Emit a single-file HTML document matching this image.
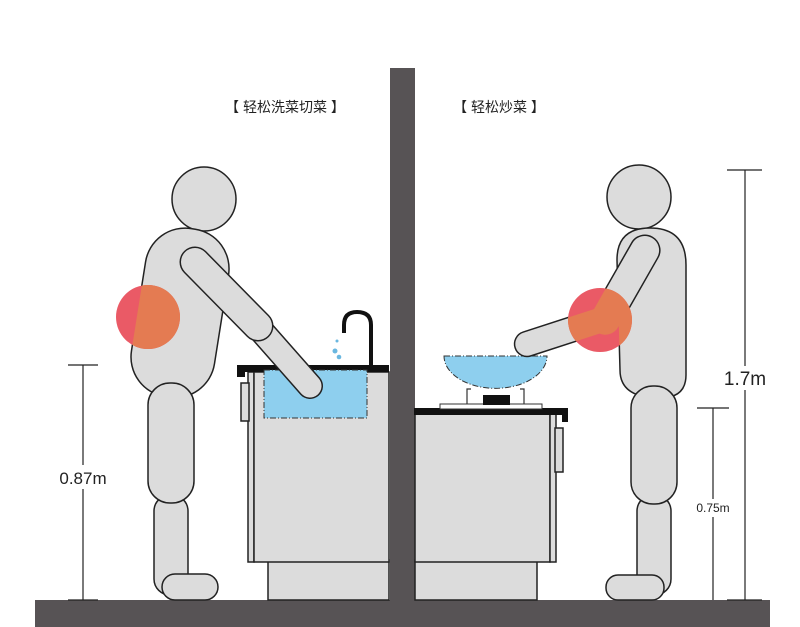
<!DOCTYPE html>
<html><head><meta charset="utf-8"><style>
html,body{margin:0;padding:0;background:#fff;}
svg{display:block;}
text{font-family:"Liberation Sans","Noto Sans CJK SC",sans-serif;}
</style></head><body>
<svg width="800" height="627" viewBox="0 0 800 627" xmlns="http://www.w3.org/2000/svg">
<defs>
<clipPath id="tl"><rect x="138" y="228" width="84" height="170" rx="40" transform="rotate(9 181 313)"/></clipPath>
<clipPath id="tr"><path d="M617 260 Q617 228 650 228 Q686 228 686 265 L686 375 Q686 398 660 398 Q620 398 620 370 Z"/><rect x="570" y="270" width="110" height="30" rx="15" transform="rotate(119.7 625 285)"/><rect x="512.5" y="318.5" width="109" height="25" rx="12.5" transform="rotate(162 567 331)"/></clipPath>
</defs>
<text x="285" y="112" font-size="14" text-anchor="middle" fill="#222">【 轻松洗菜切菜 】</text>
<text x="499" y="112" font-size="14" text-anchor="middle" fill="#222">【 轻松炒菜 】</text>
<rect x="390" y="68" width="25" height="535" fill="#575355"/>
<rect x="35" y="600" width="735" height="27" fill="#575355"/>

<g stroke="#222" stroke-width="1.5">
<rect x="268" y="560" width="121" height="40" fill="#dcdcdc"/>
<rect x="248" y="372" width="6" height="190" fill="#dcdcdc"/>
<rect x="254" y="372" width="135" height="190" fill="#dcdcdc"/>
<rect x="241" y="383" width="8" height="38" fill="#dcdcdc"/>
<rect x="415" y="560" width="122" height="40" fill="#dcdcdc"/>
<rect x="415" y="414" width="135" height="148" fill="#dcdcdc"/>
<rect x="550" y="414" width="6" height="148" fill="#dcdcdc"/>
<rect x="555" y="428" width="8" height="44" fill="#dcdcdc"/>
</g>
<rect x="237" y="365" width="152" height="7" fill="#111"/>
<rect x="237" y="365" width="8" height="12" fill="#111"/>
<rect x="264" y="370" width="103" height="48" fill="#8ecfee" stroke="#333" stroke-width="1" stroke-dasharray="6 2 1 2"/>
<path d="M371 365 L371 325 Q371 312 357 312 Q344 312 344 325 L344 333" fill="none" stroke="#111" stroke-width="4"/>
<circle cx="337" cy="341" r="1.5" fill="#6ab7e0"/><circle cx="335" cy="351" r="2.5" fill="#6ab7e0"/><circle cx="339" cy="357" r="2.3" fill="#6ab7e0"/>
<rect x="414" y="408" width="154" height="7" fill="#111"/>
<rect x="562" y="408" width="6" height="14" fill="#111"/>
<rect x="440" y="404" width="102" height="5" fill="#fff" stroke="#333" stroke-width="1"/>
<path d="M467 404 L467 389 L471 389 M524 404 L524 389 L520 389" fill="none" stroke="#333" stroke-width="1.2"/>
<rect x="483" y="395" width="27" height="10" fill="#111"/>
<path d="M444 356 L547 356 A51 32 0 0 1 444 356 Z" fill="#8ecfee" stroke="#333" stroke-width="1" stroke-dasharray="6 2 1 2"/>

<g fill="#dcdcdc" stroke="#222" stroke-width="1.5">
<circle cx="204" cy="199" r="32"/>
<rect x="138" y="228" width="84" height="170" rx="40" transform="rotate(9 181 313)"/>
<rect x="154" y="495" width="34" height="100" rx="16"/>
<rect x="162" y="574" width="56" height="26" rx="13"/>
<rect x="148" y="383" width="46" height="120" rx="22"/>
</g>
<circle cx="148" cy="317" r="32" fill="#ea5a66"/>
<circle cx="148" cy="317" r="32" fill="#e47b52" clip-path="url(#tl)"/>
<g fill="none" stroke-linecap="round">
<line x1="258" y1="327" x2="310" y2="386" stroke="#222" stroke-width="26"/>
<line x1="258" y1="327" x2="310" y2="386" stroke="#dcdcdc" stroke-width="23"/>
<line x1="195" y1="262" x2="258" y2="326" stroke="#222" stroke-width="31"/>
<line x1="195" y1="262" x2="258" y2="326" stroke="#dcdcdc" stroke-width="28"/>
</g>

<g fill="#dcdcdc" stroke="#222" stroke-width="1.5">
<circle cx="639" cy="197" r="32"/>
<path d="M617 260 Q617 228 650 228 Q686 228 686 265 L686 375 Q686 398 660 398 Q620 398 620 370 Z"/>
<rect x="637" y="495" width="34" height="100" rx="16"/>
<rect x="606" y="575" width="58" height="25" rx="12"/>
<rect x="631" y="386" width="46" height="118" rx="22"/>
<rect x="570" y="270" width="110" height="30" rx="15" transform="rotate(119.7 625 285)"/>
<rect x="512.5" y="318.5" width="109" height="25" rx="12.5" transform="rotate(162 567 331)"/>
</g>
<circle cx="600" cy="320" r="32" fill="#ea5a66"/>
<circle cx="600" cy="320" r="32" fill="#e47b52" clip-path="url(#tr)"/>

<g stroke="#222" stroke-width="1.2">
<line x1="83" y1="365" x2="83" y2="600"/>
<line x1="68" y1="365" x2="98" y2="365"/><line x1="68" y1="600" x2="98" y2="600"/>
<line x1="745" y1="170" x2="745" y2="600"/>
<line x1="727" y1="170" x2="762" y2="170"/><line x1="727" y1="600" x2="762" y2="600"/>
<line x1="713" y1="408" x2="713" y2="600"/>
<line x1="697" y1="408" x2="729" y2="408"/>
</g>
<rect x="55" y="465" width="56" height="24" fill="#fff"/>
<text x="83" y="484" font-size="17" text-anchor="middle" fill="#222">0.87m</text>
<rect x="720" y="366" width="50" height="24" fill="#fff"/>
<text x="745" y="385" font-size="19" text-anchor="middle" fill="#222">1.7m</text>
<rect x="690" y="499" width="46" height="18" fill="#fff"/>
<text x="713" y="512" font-size="12" text-anchor="middle" fill="#222">0.75m</text>
</svg>
</body></html>
